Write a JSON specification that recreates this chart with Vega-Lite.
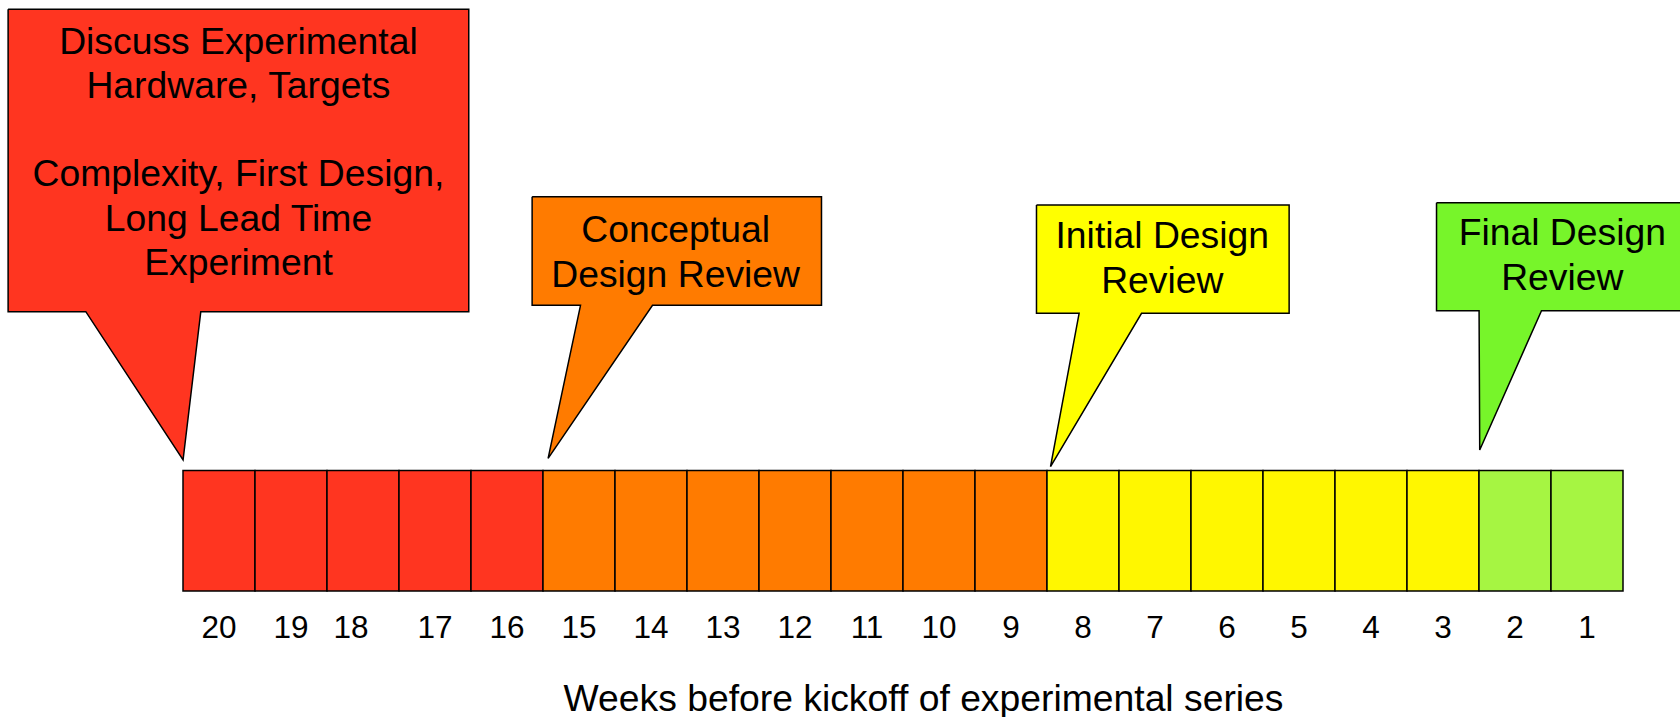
{
  "$schema": "https://vega.github.io/schema/vega-lite/v6.json",
  "width": 1440,
  "height": 591,
  "autosize": {"type": "none"},
  "padding": {"left": 183, "right": 57, "top": 0, "bottom": 126},
  "background": "white",
  "config": {"view": {"stroke": null}, "font": "Liberation Sans"},
  "datasets": {
    "cells": [
      {"week": 20, "stage": "Discussion"},
      {"week": 19, "stage": "Discussion"},
      {"week": 18, "stage": "Discussion"},
      {"week": 17, "stage": "Discussion"},
      {"week": 16, "stage": "Discussion"},
      {"week": 15, "stage": "Conceptual design"},
      {"week": 14, "stage": "Conceptual design"},
      {"week": 13, "stage": "Conceptual design"},
      {"week": 12, "stage": "Conceptual design"},
      {"week": 11, "stage": "Conceptual design"},
      {"week": 10, "stage": "Conceptual design"},
      {"week": 9, "stage": "Conceptual design"},
      {"week": 8, "stage": "Initial design"},
      {"week": 7, "stage": "Initial design"},
      {"week": 6, "stage": "Initial design"},
      {"week": 5, "stage": "Initial design"},
      {"week": 4, "stage": "Initial design"},
      {"week": 3, "stage": "Initial design"},
      {"week": 2, "stage": "Final design"},
      {"week": 1, "stage": "Final design"}
    ],
    "callouts": [
      {"callout": "Discuss", "i": 1, "weeks": 22.929, "level": 9.843},
      {"callout": "Discuss", "i": 2, "weeks": 16.531, "level": 9.843},
      {"callout": "Discuss", "i": 3, "weeks": 16.531, "level": 4.726},
      {"callout": "Discuss", "i": 4, "weeks": 20.253, "level": 4.726},
      {"callout": "Discuss", "i": 5, "weeks": 20.499, "level": 2.217},
      {"callout": "Discuss", "i": 6, "weeks": 21.85, "level": 4.726},
      {"callout": "Discuss", "i": 7, "weeks": 22.929, "level": 4.726},
      {"callout": "Discuss", "i": 8, "weeks": 22.929, "level": 9.843},
      {"callout": "CDR", "i": 1, "weeks": 15.651, "level": 6.672},
      {"callout": "CDR", "i": 2, "weeks": 11.632, "level": 6.672},
      {"callout": "CDR", "i": 3, "weeks": 11.632, "level": 4.834},
      {"callout": "CDR", "i": 4, "weeks": 13.979, "level": 4.834},
      {"callout": "CDR", "i": 5, "weeks": 15.429, "level": 2.245},
      {"callout": "CDR", "i": 6, "weeks": 14.979, "level": 4.834},
      {"callout": "CDR", "i": 7, "weeks": 15.651, "level": 4.834},
      {"callout": "CDR", "i": 8, "weeks": 15.651, "level": 6.672},
      {"callout": "IDR", "i": 1, "weeks": 8.646, "level": 6.531},
      {"callout": "IDR", "i": 2, "weeks": 5.137, "level": 6.531},
      {"callout": "IDR", "i": 3, "weeks": 5.137, "level": 4.699},
      {"callout": "IDR", "i": 4, "weeks": 7.187, "level": 4.699},
      {"callout": "IDR", "i": 5, "weeks": 8.451, "level": 2.103},
      {"callout": "IDR", "i": 6, "weeks": 8.054, "level": 4.699},
      {"callout": "IDR", "i": 7, "weeks": 8.646, "level": 4.699},
      {"callout": "IDR", "i": 8, "weeks": 8.646, "level": 6.531},
      {"callout": "FDR", "i": 1, "weeks": 3.09, "level": 6.57},
      {"callout": "FDR", "i": 2, "weeks": -0.4, "level": 6.57},
      {"callout": "FDR", "i": 3, "weeks": -0.4, "level": 4.743},
      {"callout": "FDR", "i": 4, "weeks": 1.632, "level": 4.743},
      {"callout": "FDR", "i": 5, "weeks": 2.49, "level": 2.386},
      {"callout": "FDR", "i": 6, "weeks": 2.499, "level": 4.743},
      {"callout": "FDR", "i": 7, "weeks": 3.09, "level": 4.743},
      {"callout": "FDR", "i": 8, "weeks": 3.09, "level": 6.57}
    ],
    "notes": [
      {"callout": "Discuss", "weeks": 19.73, "level": 9.279, "label": "Discuss Experimental\nHardware, Targets"},
      {"callout": "Discuss", "weeks": 19.73, "level": 7.042, "label": "Complexity, First Design,\nLong Lead Time\nExperiment"},
      {"callout": "CDR", "weeks": 13.658, "level": 6.091, "label": "Conceptual\nDesign Review"},
      {"callout": "IDR", "weeks": 6.899, "level": 5.993, "label": "Initial Design\nReview"},
      {"callout": "FDR", "weeks": 1.343, "level": 6.036, "label": "Final Design\nReview"}
    ]
  },
  "layer": [
    {
      "data": {"name": "cells"},
      "mark": {"type": "rect", "stroke": "black", "strokeWidth": 1.5},
      "encoding": {
        "x": {
          "field": "week",
          "type": "ordinal",
          "sort": "descending",
          "scale": {"paddingInner": 0, "paddingOuter": 0},
          "axis": {
            "title": "Weeks before kickoff of experimental series",
            "domain": false,
            "ticks": false,
            "tickSize": 0,
            "grid": false,
            "labelAngle": 0,
            "labelFontSize": 31.5,
            "labelColor": "black",
            "labelBaseline": "alphabetic",
            "labelPadding": 46,
            "labelOffset": {"condition": {"test": "datum.value == 18", "value": -12}, "value": 0},
            "titleFontSize": 37.3,
            "titleFontWeight": "normal",
            "titleColor": "black",
            "titleBaseline": "alphabetic",
            "titleAlign": "center",
            "titleX": 740,
            "titleY": 119
          }
        },
        "y": {"datum": 0, "type": "quantitative", "scale": {"domain": [0, 10]}, "axis": null},
        "y2": {"datum": 2.041},
        "fill": {
          "field": "stage",
          "type": "nominal",
          "scale": {
            "domain": ["Discussion", "Conceptual design", "Initial design", "Final design"],
            "range": ["#ff3520", "#ff7b00", "#fff700", "#a6f542"]
          },
          "legend": null
        }
      }
    },
    {
      "data": {"name": "callouts"},
      "mark": {"type": "line", "stroke": "black", "strokeWidth": 1.5, "strokeJoin": "miter"},
      "encoding": {
        "x": {"field": "weeks", "type": "quantitative", "scale": {"domain": [0.5, 20.5], "reverse": true, "nice": false, "zero": false}, "axis": null},
        "y": {"field": "level", "type": "quantitative", "axis": null},
        "order": {"field": "i", "type": "quantitative"},
        "detail": {"field": "callout", "type": "nominal"},
        "fill": {
          "field": "callout",
          "type": "nominal",
          "scale": {
            "domain": ["Discuss", "CDR", "IDR", "FDR"],
            "range": ["#ff3520", "#ff7b00", "#ffff00", "#77f52a"]
          },
          "legend": null
        }
      }
    },
    {
      "data": {"name": "notes"},
      "mark": {"type": "text", "lineBreak": "\n", "lineHeight": 44.8, "fontSize": 37.3, "align": "center", "baseline": "middle", "color": "black"},
      "encoding": {
        "x": {"field": "weeks", "type": "quantitative", "scale": {"domain": [0.5, 20.5], "reverse": true, "nice": false, "zero": false}, "axis": null},
        "y": {"field": "level", "type": "quantitative", "axis": null},
        "text": {"field": "label", "type": "nominal"}
      }
    }
  ],
  "resolve": {"scale": {"x": "independent", "fill": "independent"}}
}
